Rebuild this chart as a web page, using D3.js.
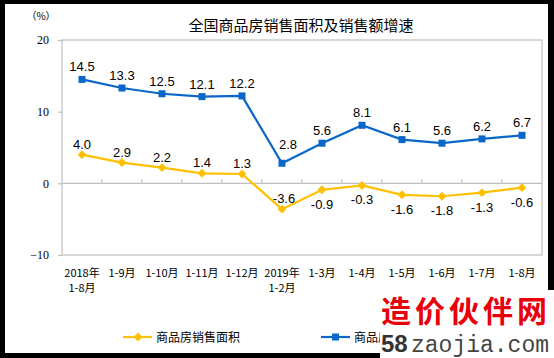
<!DOCTYPE html>
<html>
<head>
<meta charset="utf-8">
<script src="https://cdn.jsdelivr.net/npm/d3@7"></script>
<style>
html,body{margin:0;padding:0;background:#000;}
svg{display:block;}
</style>
</head>
<body>
<script>
const categories = [["2018年","1-8月"],["1-9月"],["1-10月"],["1-11月"],["1-12月"],["2019年","1-2月"],["1-3月"],["1-4月"],["1-5月"],["1-6月"],["1-7月"],["1-8月"]];
const areaGrowth = [4.0, 2.9, 2.2, 1.4, 1.3, -3.6, -0.9, -0.3, -1.6, -1.8, -1.3, -0.6];
const salesGrowth = [14.5, 13.3, 12.5, 12.1, 12.2, 2.8, 5.6, 8.1, 6.1, 5.6, 6.2, 6.7];
const yTicks = [20, 10, 0, -10];
const seriesNames = ["商品房销售面积", "商品房销售额"];
const title = "全国商品房销售面积及销售额增速";

const W = 554, H = 358;
const svg = d3.select("body").append("svg").attr("width", W).attr("height", H);

// frame
svg.append("rect").attr("x",5).attr("y",4).attr("width",543).attr("height",349).attr("fill","#fff");

const plot = {l:62, r:542, t:40, b:255};
const x = d3.scaleBand().domain(d3.range(categories.length)).range([plot.l, plot.r]);
const y = d3.scaleLinear().domain([-10, 20]).range([plot.b, plot.t]);

const grid = "#bfbfbf";
svg.append("rect").attr("x",plot.l).attr("y",plot.t).attr("width",plot.r-plot.l).attr("height",plot.b-plot.t)
  .attr("fill","none").attr("stroke",grid).attr("stroke-width",1.2);

// y axis
const yAxis = svg.append("g").attr("transform",`translate(${plot.l},0)`)
  .call(d3.axisLeft(y).tickValues(yTicks).tickSize(4).tickPadding(9).tickFormat(d3.format("d")));
yAxis.select(".domain").remove();
yAxis.selectAll("line").attr("stroke",grid).attr("stroke-width",1.2);
yAxis.selectAll("text").attr("font-family","'Liberation Serif','Times New Roman',serif").attr("font-size",12).attr("fill","#000");

// zero line with ticks at category boundaries
svg.append("line").attr("x1",plot.l).attr("x2",plot.r).attr("y1",y(0)).attr("y2",y(0)).attr("stroke",grid).attr("stroke-width",1.2);
svg.selectAll(".xt").data(d3.range(1, categories.length)).enter().append("line")
  .attr("x1", i=>x(i)).attr("x2", i=>x(i)).attr("y1", y(0)).attr("y2", y(0)-4)
  .attr("stroke",grid).attr("stroke-width",1.2);

// x labels
const xl = svg.append("g");
categories.forEach((c,i)=>{
  const t = xl.append("text").attr("x", x(i)+x.bandwidth()/2).attr("y", 277)
    .attr("text-anchor","middle").attr("font-family","'Noto Sans CJK SC',sans-serif").attr("font-size",11).attr("fill","#000");
  c.forEach((s,k)=>t.append("tspan").attr("x", x(i)+x.bandwidth()/2).attr("dy", k===0?0:15).text(s));
});

// title
svg.append("text").attr("x",301).attr("y",31).attr("text-anchor","middle")
  .attr("font-family","'Noto Sans CJK SC',sans-serif").attr("font-size",15).attr("fill","#000").text(title);
svg.append("text").attr("x",41).attr("y",20).attr("text-anchor","middle")
  .attr("font-family","'Noto Sans CJK SC',sans-serif").attr("font-size",10).attr("fill","#000").text("（%）");

const cx = i => x(i)+x.bandwidth()/2;
const line = d3.line().x((d,i)=>cx(i)).y(d=>y(d));

const blue = "#0A66C8", yellow = "#FFC000";

// sales line
svg.append("path").datum(salesGrowth).attr("d",line).attr("fill","none").attr("stroke",blue).attr("stroke-width",2.2);
svg.selectAll(".sq").data(salesGrowth).enter().append("rect")
  .attr("x",(d,i)=>cx(i)-3.5).attr("y",d=>y(d)-3.5).attr("width",7).attr("height",7).attr("fill",blue);

// area line
svg.append("path").datum(areaGrowth).attr("d",line).attr("fill","none").attr("stroke",yellow).attr("stroke-width",2.2);
const diamond = d3.symbol().type(d3.symbolDiamond2).size(50);
svg.selectAll(".dm").data(areaGrowth).enter().append("path")
  .attr("d",diamond).attr("transform",(d,i)=>`translate(${cx(i)},${y(d)})`).attr("fill",yellow);

// labels
const lf = "'Liberation Sans',Arial,sans-serif";
svg.selectAll(".sl").data(salesGrowth).enter().append("text")
  .attr("x",(d,i)=>cx(i)+(d<5?6:0)).attr("y",d=>y(d)-(d<5?14:8))
  .attr("text-anchor","middle").attr("font-family",lf).attr("font-size",13).attr("fill","#000")
  .text(d=>d.toFixed(1));
const minArea = d3.min(areaGrowth);
svg.selectAll(".al").data(areaGrowth).enter().append("text")
  .attr("x",(d,i)=>cx(i)+(d===minArea?2:0))
  .attr("y",d=> (d>=0 || d===minArea) ? y(d)-6 : y(d)+19)
  .attr("text-anchor","middle").attr("font-family",lf).attr("font-size",13).attr("fill","#000")
  .text(d=>d.toFixed(1));

// legend
const lg = svg.append("g");
[[yellow,"d",123],[blue,"s",321]].forEach((it,k)=>{
  const [col,shape,lx] = it;
  lg.append("line").attr("x1",lx).attr("x2",lx+29).attr("y1",337).attr("y2",337).attr("stroke",col).attr("stroke-width",2.2);
  if(shape==="d") lg.append("path").attr("d",diamond).attr("transform",`translate(${lx+15},337)`).attr("fill",col);
  else lg.append("rect").attr("x",lx+11).attr("y",333.5).attr("width",7).attr("height",7).attr("fill",col);
  lg.append("text").attr("x",lx+33).attr("y",341.5).attr("font-family","'Noto Sans CJK SC',sans-serif").attr("font-size",12).attr("fill","#000").text(seriesNames[k]);
});

// watermark overlay (as in the source picture)
const wm = svg.append("g");
wm.append("rect").attr("x",380).attr("y",290).attr("width",174).attr("height",68).attr("fill","#fff");
wm.append("text").attr("x",381).attr("y",322).attr("font-family","'Noto Sans CJK SC',sans-serif").attr("font-weight","bold")
  .attr("font-size",30).attr("letter-spacing",4).attr("fill","#e8000b").text("造价伙伴网");
wm.append("text").attr("x",381).attr("y",352).attr("font-family","'Liberation Sans',Arial,sans-serif").attr("font-weight","bold")
  .attr("font-size",24).attr("fill","#333").text("58");
wm.append("text").attr("x",411).attr("y",352).attr("font-family","'Liberation Mono','Courier New',monospace")
  .attr("font-size",23).attr("fill","#444").text("zaojia.com");
</script>
</body>
</html>
